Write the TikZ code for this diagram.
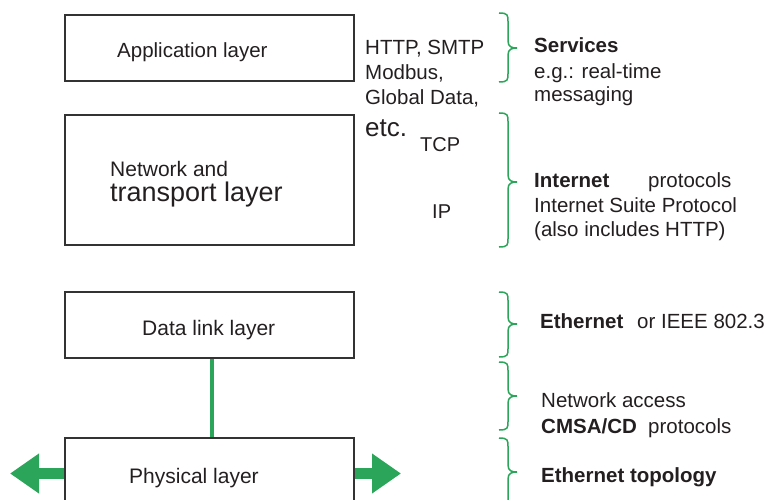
\documentclass[tikz,border=0pt]{standalone}
\usepackage{fontspec}
\setmainfont{Liberation Sans}
\usetikzlibrary{arrows.meta}
\definecolor{txt}{HTML}{231F20}
\definecolor{grn}{HTML}{2BA55A}
\definecolor{boxc}{HTML}{333333}
\newcommand\gbrace[4]{%
  \draw[bracestyle] (499,#2) .. controls (508,#2) and (508,#2+2) .. (508,#2+9)
    -- (508,#3-7) .. controls (508,#3-1) and (512,#3) .. (517,#3) coordinate (#1)
    .. controls (512,#3) and (508,#3+1) .. (508,#3+7)
    -- (508,#4-9) .. controls (508,#4-2) and (508,#4) .. (499,#4);}
\tikzset{
  layerbox/.style={draw=boxc, line width=2pt, minimum width=289pt, inner sep=0pt},
  lbl/.style={anchor=base west, inner sep=0pt, text=txt, font=\fontsize{20.5}{24}\selectfont},
  bracestyle/.style={draw=grn, line width=1.5pt},
  greenline/.style={draw=grn, line width=4.3pt},
  bigarrow/.style={draw=grn, line width=11pt, -{Triangle[length=29pt,width=38pt]}, fill=grn},
}
\begin{document}
\begin{tikzpicture}[x=1pt,y=-1pt]
\useasboundingbox (0,0) rectangle (771,500);
% boxes
\node[layerbox, minimum height=66pt] (app) at (209.5,48) {};
\node[layerbox, minimum height=130pt] (net) at (209.5,180) {};
\node[layerbox, minimum height=66pt] (dl) at (209.5,325) {};
\node[layerbox, minimum height=66pt] (ph) at (209.5,471) {};
% box texts
\node[lbl] (tapp) at (117,58) {Application layer};
\node[lbl, font=\fontsize{21}{24}\selectfont] (tnet1) at (110,176) {Network and};
\node[lbl, font=\fontsize{27}{30}\selectfont] (tnet2) at (110,201) {transport layer};
\node[lbl, font=\fontsize{21}{24}\selectfont] (tdl) at (142,335) {Data link layer};
\node[lbl, font=\fontsize{21}{24}\selectfont] (tph) at (129,483) {Physical layer};
% green connector and arrows
\draw[greenline] ([xshift=2.5pt]dl.south) -- ([xshift=2.5pt]ph.north);
\coordinate (la) at (10,473.5);
\coordinate (ra) at (401,473.5);
\draw[bigarrow] (ph.west |- la) -- (la);
\draw[bigarrow] (ph.east |- ra) -- (ra);
% protocol texts
\node[lbl] (http) at (365,55) {HTTP, SMTP};
\node[lbl] (modbus) at (365,80) {Modbus,};
\node[lbl] (gd) at (365,105) {Global Data,};
\node[lbl, font=\fontsize{26}{30}\selectfont] (etc) at (365,136) {etc.};
\node[lbl, font=\fontsize{20}{24}\selectfont] (tcp) at (420,152) {TCP};
\node[lbl, font=\fontsize{20}{24}\selectfont] (ip) at (432,218) {IP};
% braces
\gbrace{b1}{13}{48}{82}
\gbrace{b2}{113}{182}{247}
\gbrace{b3}{292}{324}{357}
\gbrace{b4}{362}{396}{430}
\gbrace{b5}{438}{472}{540}
% right texts
\node[lbl, font=\fontsize{20.5}{24}\selectfont\bfseries] (serv) at (534,53) {Services};
\node[lbl] (eg) at (534,79) {e.g.: real-time};
\node[lbl] (msg) at (534,102) {messaging};
\node[lbl, font=\fontsize{20.5}{24}\selectfont\bfseries] (inet) at (534,187) {Internet};
\node[lbl] (prot1) at (648,187) {protocols};
\node[lbl] (isp) at (534,212) {Internet Suite Protocol};
\node[lbl] (also) at (534,236) {(also includes HTTP)};
\node[lbl, font=\fontsize{20.5}{24}\selectfont\bfseries] (eth) at (540,328) {Ethernet};
\node[lbl] (ieee) at (637,328) {or IEEE 802.3};
\node[lbl] (na) at (541,407) {Network access};
\node[lbl, font=\fontsize{20.5}{24}\selectfont\bfseries] (cmsa) at (541,433) {CMSA/CD};
\node[lbl] (prot2) at (648,433) {protocols};
\node[lbl, font=\fontsize{20.5}{24}\selectfont\bfseries] (etop) at (541,482) {Ethernet topology};
\end{tikzpicture}
\end{document}
